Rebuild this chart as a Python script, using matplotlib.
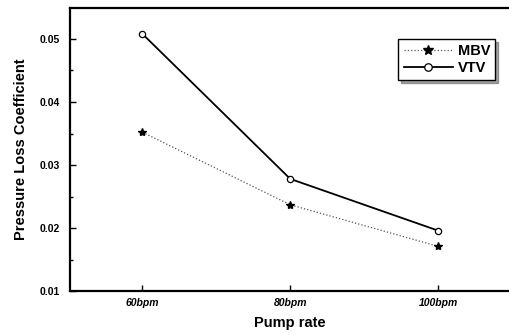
import matplotlib
matplotlib.use("Agg")
import matplotlib.pyplot as plt
from matplotlib.ticker import MultipleLocator

plt.rcParams["font.family"] = ["Liberation Sans", "DejaVu Sans"]

pump_rates = ["60bpm", "80bpm", "100bpm"]
mbv = [0.0352, 0.0237, 0.0171]
vtv = [0.0508, 0.0278, 0.0196]

fig = plt.figure(figsize=(5.09, 3.35), dpi=100)
ax = fig.add_axes([0.1375, 0.131, 0.8625, 0.845])

x = list(range(len(pump_rates)))
ax.plot(x, mbv, color="#555555", ls=":", lw=0.9, marker="*", ms=6,
        mfc="black", mec="black", label="MBV")
ax.plot(x, vtv, color="black", ls="-", lw=1.3, marker="o", ms=4.5,
        mfc="white", mec="black", mew=0.9, label="VTV")

ax.set_xlim(-0.49, 2.48)
ax.set_ylim(0.01, 0.0549)
ax.set_xticks(x)
ax.set_xticklabels(pump_rates, fontsize=7.5, fontweight="bold", fontstyle="italic")
ax.yaxis.set_minor_locator(MultipleLocator(0.005))
ax.set_yticks([0.01, 0.02, 0.03, 0.04, 0.05])
ax.set_yticklabels(["0.01", "0.02", "0.03", "0.04", "0.05"], fontsize=7.5,
                   fontweight="bold")
ax.tick_params(axis="both", which="both", direction="in", width=1.0)
ax.tick_params(axis="both", which="major", length=4)
ax.tick_params(axis="y", which="major", pad=7)
ax.tick_params(axis="x", which="major", pad=5)
ax.tick_params(axis="y", which="minor", length=2.5)

for side in ("left", "bottom", "top"):
    ax.spines[side].set_linewidth(1.6)
ax.spines["right"].set_visible(False)

ax.set_xlabel("Pump rate", fontsize=10.5, fontweight="bold", labelpad=6)
ax.set_ylabel("Pressure Loss Coefficient", fontsize=10.5, fontweight="bold",
              labelpad=9)

leg = ax.legend(loc="upper right", bbox_to_anchor=(0.985, 0.915),
                prop={"weight": "bold", "size": 10.5}, frameon=True,
                fancybox=False, shadow=True, handlelength=3.4,
                handletextpad=0.3, borderpad=0.35, labelspacing=0.15,
                markerscale=1.2)
leg.get_frame().set_edgecolor("black")
leg.get_frame().set_linewidth(1.0)

fig.savefig("out.png", dpi=100)
